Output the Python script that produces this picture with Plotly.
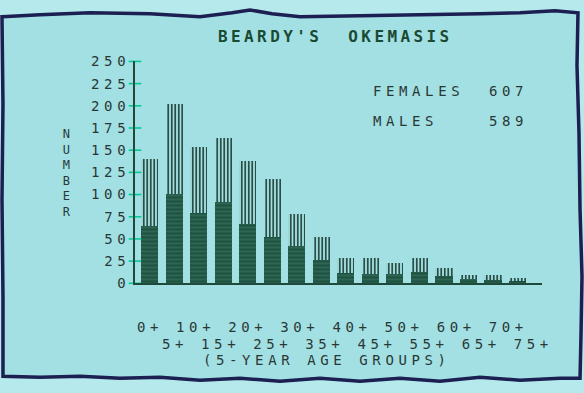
import plotly.graph_objects as go

W, H = 584, 393

# Population counts per 5-year age group
age_starts = [0, 5, 10, 15, 20, 25, 30, 35, 40, 45, 50, 55, 60, 65, 70, 75]
males = [65, 101, 79, 92, 67, 52, 42, 26, 12, 10, 11, 13, 8, 5, 4, 2]
females = [75, 101, 75, 72, 71, 66, 36, 26, 17, 18, 12, 16, 9, 4, 5, 4]
y_ticks = [0, 25, 50, 75, 100, 125, 150, 175, 200, 225, 250]

title_text = "BEARDY'S\u00a0\u00a0OKEMASIS"
x_caption = "(5-YEAR AGE GROUPS)"
y_caption = "NUMBER"

age_labels = [f"{a}+" for a in age_starts]
positions = list(range(len(age_starts)))

INNER_BG = "#a3e0e3"
OUTER_BG = "#b6e9ec"
AXIS = "#1f4a3b"
DARK = "#1d5441"
TEXT = "#2a3835"
TITLE = "#1b4a34"
BORDER = "#1b1f52"
MONO = "DejaVu Sans Mono"


def px(x, y):
    """pixel position -> paper coordinates (margins are zero)"""
    return x / W, 1 - y / H


fig = go.Figure()

fig.add_bar(
    x=positions, y=males, width=0.7, name="MALES",
    marker=dict(color=DARK, line_width=0,
                pattern=dict(shape="-", fgcolor="#6a9f8c", size=4,
                             solidity=0.22, fillmode="overlay")),
)
fig.add_bar(
    x=positions, y=females, width=0.7, name="FEMALES",
    marker=dict(color="rgba(0,0,0,0)", line_width=0,
                pattern=dict(shape="|", fgcolor="#1c3d33", bgcolor="rgba(0,0,0,0)",
                             size=3.5, solidity=0.45, fillmode="replace")),
)

# cross-shaped tick marks on the value axis
x_lo, x_hi = -0.6, 16.0
fig.add_scatter(
    x=[x_lo] * len(y_ticks), y=y_ticks, mode="markers", cliponaxis=False,
    hoverinfo="skip",
    marker=dict(symbol="line-ew-open", size=9, line=dict(color=AXIS, width=1.6)),
)

# hand-drawn frame around the screen
top = [(2, 9), (40, 7), (90, 5), (150, 6), (200, 9), (232, 5), (250, 2), (272, 6),
       (300, 9), (360, 8), (420, 7), (480, 6), (520, 5), (555, 3), (578, 5)]
right = [(577, 60), (579, 130), (580, 210), (582, 280), (581, 340), (580, 386)]
bottom = [(560, 386), (520, 388), (480, 385), (440, 389), (400, 386), (360, 389),
          (320, 386), (280, 389), (240, 386), (200, 388), (160, 385), (120, 386),
          (80, 384), (40, 385), (3, 384)]
left = [(3, 300), (2, 200), (3, 100)]
pts = top + right + bottom + left
path = "M " + " L ".join("{:.4f},{:.4f}".format(*px(x, y)) for x, y in pts) + " Z"

shapes = [dict(type="path", xref="paper", yref="paper", path=path, layer="below",
               fillcolor=INNER_BG, line=dict(color=BORDER, width=3.5))]

annotations = []


def label(text, x, y, size=14, color=TEXT, bold=False, anchor="left"):
    xp, yp = px(x, y)
    annotations.append(dict(
        text=text, x=xp, y=yp, xref="paper", yref="paper", showarrow=False,
        xanchor=anchor, yanchor="middle", align=anchor,
        font=dict(family=MONO, size=size, color=color, weight="bold" if bold else "normal"),
    ))


label(title_text, 216, 30, size=16, color=TITLE, bold=True)

label("FEMALES", 371, 87)
label(str(sum(females)), 487, 87)
label("MALES", 371, 118)
label(str(sum(males)), 487, 118)

label(" ".join(age_labels[0::2]), 135, 333)
label(" ".join(age_labels[1::2]), 160, 350)
label(x_caption, 201, 367)

# vertical axis caption, one letter per line
label("<br>".join(y_caption), 69, 172, size=12, anchor="center")

fig.update_layout(
    width=W, height=H, margin=dict(l=0, r=0, t=0, b=0),
    paper_bgcolor=OUTER_BG, plot_bgcolor="rgba(0,0,0,0)",
    barmode="stack", showlegend=False, shapes=shapes, annotations=annotations,
    xaxis=dict(domain=[135 / W, 542 / W], range=[x_lo, x_hi], showline=True,
               linecolor=AXIS, linewidth=2, showticklabels=False, ticks="",
               showgrid=False, zeroline=False),
    yaxis=dict(domain=[1 - 287 / H, 1 - 55.7 / H], range=[0, 250], tickvals=y_ticks,
               ticktext=[str(v) for v in y_ticks], ticks="", showline=True,
               linecolor=AXIS, linewidth=2, showgrid=False, zeroline=False,
               ticklabelstandoff=0,
               tickfont=dict(family=MONO, size=14, color=TEXT)),
)

# widen character spacing to the screen's fixed text grid (bold title a bit less)
spacing_js = """
var s = document.createElement('style');
s.textContent = '.annotation-text, .ytick text { letter-spacing: 4.6px; }';
document.head.appendChild(s);
document.querySelectorAll('.annotation-text').forEach(function (t) {
  var w = window.getComputedStyle(t).fontWeight;
  if (w === 'bold' || parseInt(w, 10) >= 600) { t.style.letterSpacing = '3.4px'; }
});
"""

fig.write_html("out.html", post_script=spacing_js, config={"responsive": False})
